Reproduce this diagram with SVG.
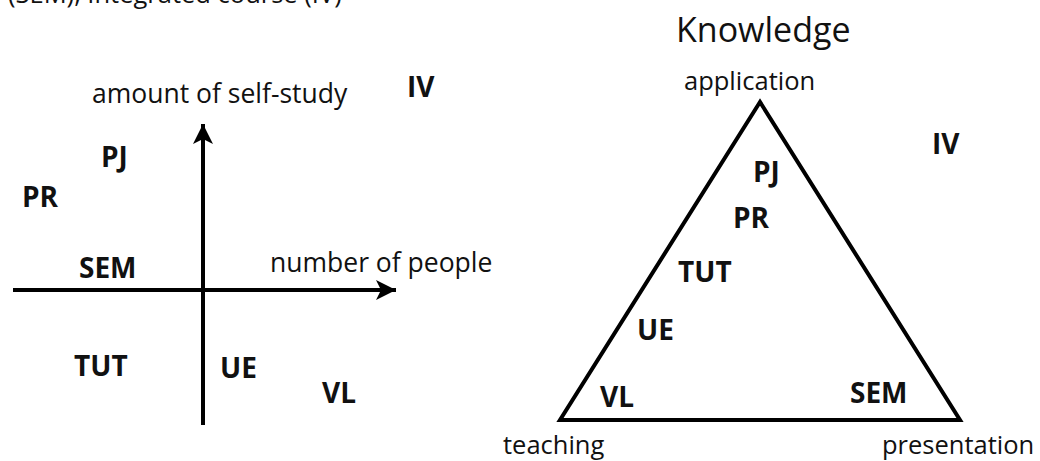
<svg xmlns="http://www.w3.org/2000/svg" width="1040" height="461" viewBox="0 0 1040 461">
  <style>
    .t { font-family: "Open Sans", "Noto Sans", "DejaVu Sans", sans-serif; font-size: 25.5px; fill: #111; }
    .ax { font-size: 26.5px; }
    .b { font-family: "Open Sans", "Noto Sans", "DejaVu Sans", sans-serif; font-size: 28px; font-weight: bold; fill: #111; }
    .title { font-size: 34px; }
    .axis { stroke: #000; stroke-width: 4; fill: none; }
  </style>
  <defs>
    <marker id="arrow" markerUnits="userSpaceOnUse" markerWidth="26" markerHeight="24" refX="21" refY="11" orient="auto" viewBox="0 0 26 22">
      <path d="M21,11 L1,1 L6,11 L1,21 Z" fill="#000"/>
    </marker>
  </defs>
  <rect width="1040" height="461" fill="#fff"/>

  <!-- caption line, partly above the top edge -->
  <text class="t" x="8" y="3">(SEM), Integrated course (IV)</text>

  <!-- left chart: axes -->
  <g id="connectors">
    <line class="axis" x1="203" y1="425" x2="203" y2="124" marker-end="url(#arrow)"/>
    <line class="axis" x1="13" y1="290" x2="396" y2="290" marker-end="url(#arrow)"/>
  </g>

  <g id="axis-labels">
    <text class="t ax" x="92" y="103">amount of self-study</text>
    <text class="t ax" x="270" y="272">number of people</text>
  </g>

  <g id="left-IV"><text class="b" x="407" y="97">IV</text></g>
  <g id="left-PJ"><text class="b" x="101" y="167">PJ</text></g>
  <g id="left-PR"><text class="b" x="22" y="207">PR</text></g>
  <g id="left-SEM"><text class="b" x="79" y="278">SEM</text></g>
  <g id="left-TUT"><text class="b" x="74" y="376">TUT</text></g>
  <g id="left-UE"><text class="b" x="220" y="378">UE</text></g>
  <g id="left-VL"><text class="b" x="322" y="403">VL</text></g>

  <!-- right chart: knowledge triangle -->
  <g id="triangle">
    <polygon points="760,102 560,420 960,420" fill="none" stroke="#000" stroke-width="4" stroke-linejoin="miter"/>
  </g>
  <g id="triangle-labels">
    <text class="t title" x="676" y="42">Knowledge</text>
    <text class="t" x="684" y="90">application</text>
    <text class="t" x="503" y="454">teaching</text>
    <text class="t" x="882" y="454">presentation</text>
  </g>

  <g id="right-IV"><text class="b" x="932" y="154">IV</text></g>
  <g id="right-PJ"><text class="b" x="753" y="182">PJ</text></g>
  <g id="right-PR"><text class="b" x="733" y="228">PR</text></g>
  <g id="right-TUT"><text class="b" x="678" y="282">TUT</text></g>
  <g id="right-UE"><text class="b" x="637" y="340">UE</text></g>
  <g id="right-VL"><text class="b" x="600" y="407">VL</text></g>
  <g id="right-SEM"><text class="b" x="850" y="403">SEM</text></g>
</svg>
